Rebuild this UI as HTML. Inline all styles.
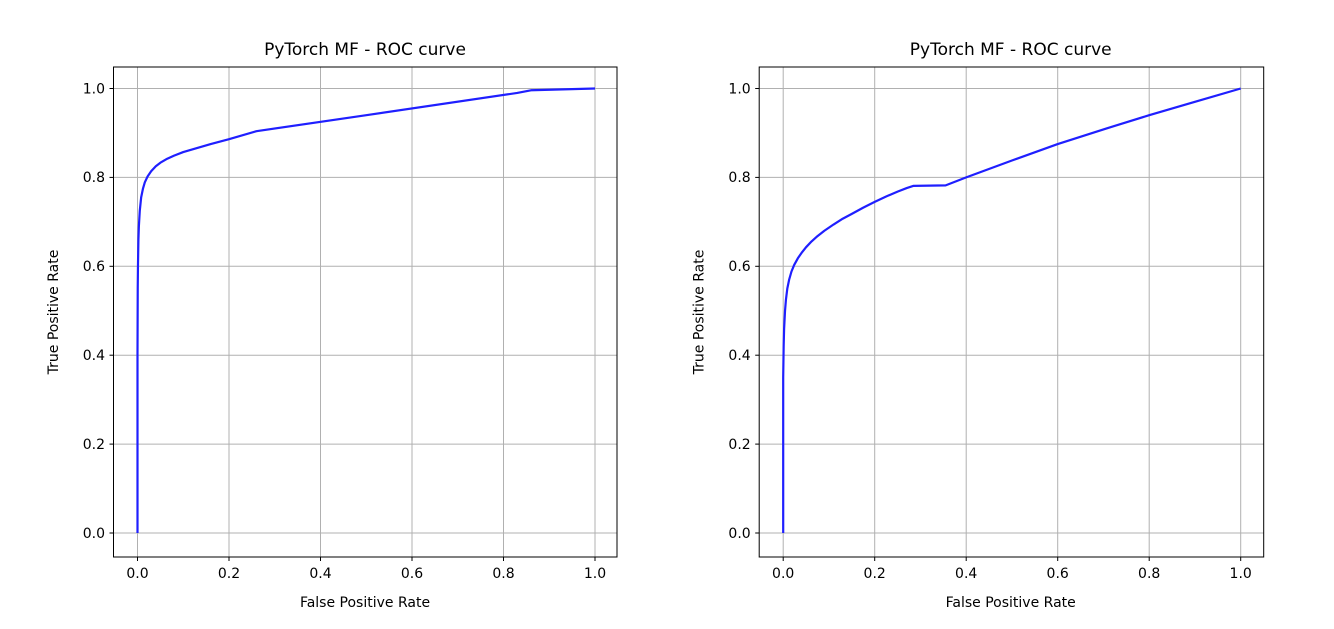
<!DOCTYPE html>
<html><head><style>body{margin:0;background:#fff}svg text{font-family:"DejaVu Sans","Liberation Sans",sans-serif;fill:#000}</style></head><body>
<svg width="1334" height="624" viewBox="0 0 1334 624" xmlns="http://www.w3.org/2000/svg">
<!-- LEFT -->
<g>
<g stroke="#b0b0b0" stroke-width="1">
<line x1="137.5" y1="67" x2="137.5" y2="557"/><line x1="229" y1="67" x2="229" y2="557"/><line x1="320.5" y1="67" x2="320.5" y2="557"/><line x1="412" y1="67" x2="412" y2="557"/><line x1="503.5" y1="67" x2="503.5" y2="557"/><line x1="595" y1="67" x2="595" y2="557"/>
<line x1="113.5" y1="533" x2="617" y2="533"/><line x1="113.5" y1="444.1" x2="617" y2="444.1"/><line x1="113.5" y1="355.2" x2="617" y2="355.2"/><line x1="113.5" y1="266.3" x2="617" y2="266.3"/><line x1="113.5" y1="177.4" x2="617" y2="177.4"/><line x1="113.5" y1="88.5" x2="617" y2="88.5"/>
</g>
<g transform="translate(137.5,533) scale(457.5,-444.5)">
<path d="M0,0 L0,0.4 L0.0005,0.55 L0.001,0.6 L0.002,0.66 L0.003,0.69 L0.005,0.725 L0.008,0.755 L0.012,0.775 L0.016,0.789 L0.022,0.802 L0.03,0.814 L0.04,0.825 L0.05,0.833 L0.065,0.842 L0.08,0.849 L0.1,0.857 L0.13,0.866 L0.16,0.875 L0.2,0.886 L0.26,0.904 L0.5,0.94 L0.83,0.99 L0.86,0.996 L1,1" fill="none" stroke="#1f1fff" stroke-width="2.2" stroke-linejoin="round" vector-effect="non-scaling-stroke"/>
</g>
<rect x="113.5" y="67" width="503.5" height="490" fill="none" stroke="#000" stroke-width="1"/>
<g stroke="#000"><line x1="137.5" y1="557" x2="137.5" y2="561"/><line x1="229" y1="557" x2="229" y2="561"/><line x1="320.5" y1="557" x2="320.5" y2="561"/><line x1="412" y1="557" x2="412" y2="561"/><line x1="503.5" y1="557" x2="503.5" y2="561"/><line x1="595" y1="557" x2="595" y2="561"/>
<line x1="109.5" y1="533" x2="113.5" y2="533"/><line x1="109.5" y1="444.1" x2="113.5" y2="444.1"/><line x1="109.5" y1="355.2" x2="113.5" y2="355.2"/><line x1="109.5" y1="266.3" x2="113.5" y2="266.3"/><line x1="109.5" y1="177.4" x2="113.5" y2="177.4"/><line x1="109.5" y1="88.5" x2="113.5" y2="88.5"/></g>
<g font-size="14" text-anchor="middle"><text x="137.5" y="578">0.0</text><text x="229" y="578">0.2</text><text x="320.5" y="578">0.4</text><text x="412" y="578">0.6</text><text x="503.5" y="578">0.8</text><text x="595" y="578">1.0</text></g>
<g font-size="14" text-anchor="end"><text x="105" y="538">0.0</text><text x="105" y="449">0.2</text><text x="105" y="360">0.4</text><text x="105" y="271">0.6</text><text x="105" y="182">0.8</text><text x="105" y="93.5">1.0</text></g>
<text x="365" y="607" font-size="14" text-anchor="middle">False Positive Rate</text>
<text transform="translate(58,312) rotate(-90)" font-size="14" text-anchor="middle">True Positive Rate</text>
<text x="365" y="55" font-size="17" text-anchor="middle">PyTorch MF - ROC curve</text>
</g>
<!-- RIGHT -->
<g transform="translate(645.7,0)">
<g stroke="#b0b0b0" stroke-width="1">
<line x1="137.5" y1="67" x2="137.5" y2="557"/><line x1="229" y1="67" x2="229" y2="557"/><line x1="320.5" y1="67" x2="320.5" y2="557"/><line x1="412" y1="67" x2="412" y2="557"/><line x1="503.5" y1="67" x2="503.5" y2="557"/><line x1="595" y1="67" x2="595" y2="557"/>
<line x1="113.5" y1="533" x2="618" y2="533"/><line x1="113.5" y1="444.1" x2="618" y2="444.1"/><line x1="113.5" y1="355.2" x2="618" y2="355.2"/><line x1="113.5" y1="266.3" x2="618" y2="266.3"/><line x1="113.5" y1="177.4" x2="618" y2="177.4"/><line x1="113.5" y1="88.5" x2="618" y2="88.5"/>
</g>
<g transform="translate(137.5,533) scale(457.5,-444.5)">
<path d="M0,0 L0,0.35 L0.001,0.42 L0.002,0.46 L0.004,0.5 L0.006,0.525 L0.009,0.55 L0.013,0.57 L0.018,0.588 L0.024,0.603 L0.032,0.618 L0.04,0.63 L0.05,0.643 L0.062,0.656 L0.075,0.668 L0.09,0.68 L0.11,0.694 L0.13,0.707 L0.15,0.718 L0.175,0.732 L0.2,0.745 L0.225,0.757 L0.25,0.768 L0.27,0.776 L0.285,0.781 L0.355,0.782 L0.4,0.8 L0.5,0.838 L0.6,0.875 L0.7,0.908 L0.8,0.94 L0.9,0.97 L1,1" fill="none" stroke="#1f1fff" stroke-width="2.2" stroke-linejoin="round" vector-effect="non-scaling-stroke"/>
</g>
<rect x="113.5" y="67" width="504.5" height="490" fill="none" stroke="#000" stroke-width="1"/>
<g stroke="#000"><line x1="137.5" y1="557" x2="137.5" y2="561"/><line x1="229" y1="557" x2="229" y2="561"/><line x1="320.5" y1="557" x2="320.5" y2="561"/><line x1="412" y1="557" x2="412" y2="561"/><line x1="503.5" y1="557" x2="503.5" y2="561"/><line x1="595" y1="557" x2="595" y2="561"/>
<line x1="109.5" y1="533" x2="113.5" y2="533"/><line x1="109.5" y1="444.1" x2="113.5" y2="444.1"/><line x1="109.5" y1="355.2" x2="113.5" y2="355.2"/><line x1="109.5" y1="266.3" x2="113.5" y2="266.3"/><line x1="109.5" y1="177.4" x2="113.5" y2="177.4"/><line x1="109.5" y1="88.5" x2="113.5" y2="88.5"/></g>
<g font-size="14" text-anchor="middle"><text x="137.5" y="578">0.0</text><text x="229" y="578">0.2</text><text x="320.5" y="578">0.4</text><text x="412" y="578">0.6</text><text x="503.5" y="578">0.8</text><text x="595" y="578">1.0</text></g>
<g font-size="14" text-anchor="end"><text x="105" y="538">0.0</text><text x="105" y="449">0.2</text><text x="105" y="360">0.4</text><text x="105" y="271">0.6</text><text x="105" y="182">0.8</text><text x="105" y="93.5">1.0</text></g>
<text x="365" y="607" font-size="14" text-anchor="middle">False Positive Rate</text>
<text transform="translate(58,312) rotate(-90)" font-size="14" text-anchor="middle">True Positive Rate</text>
<text x="365" y="55" font-size="17" text-anchor="middle">PyTorch MF - ROC curve</text>
</g>
</svg>
</body></html>
